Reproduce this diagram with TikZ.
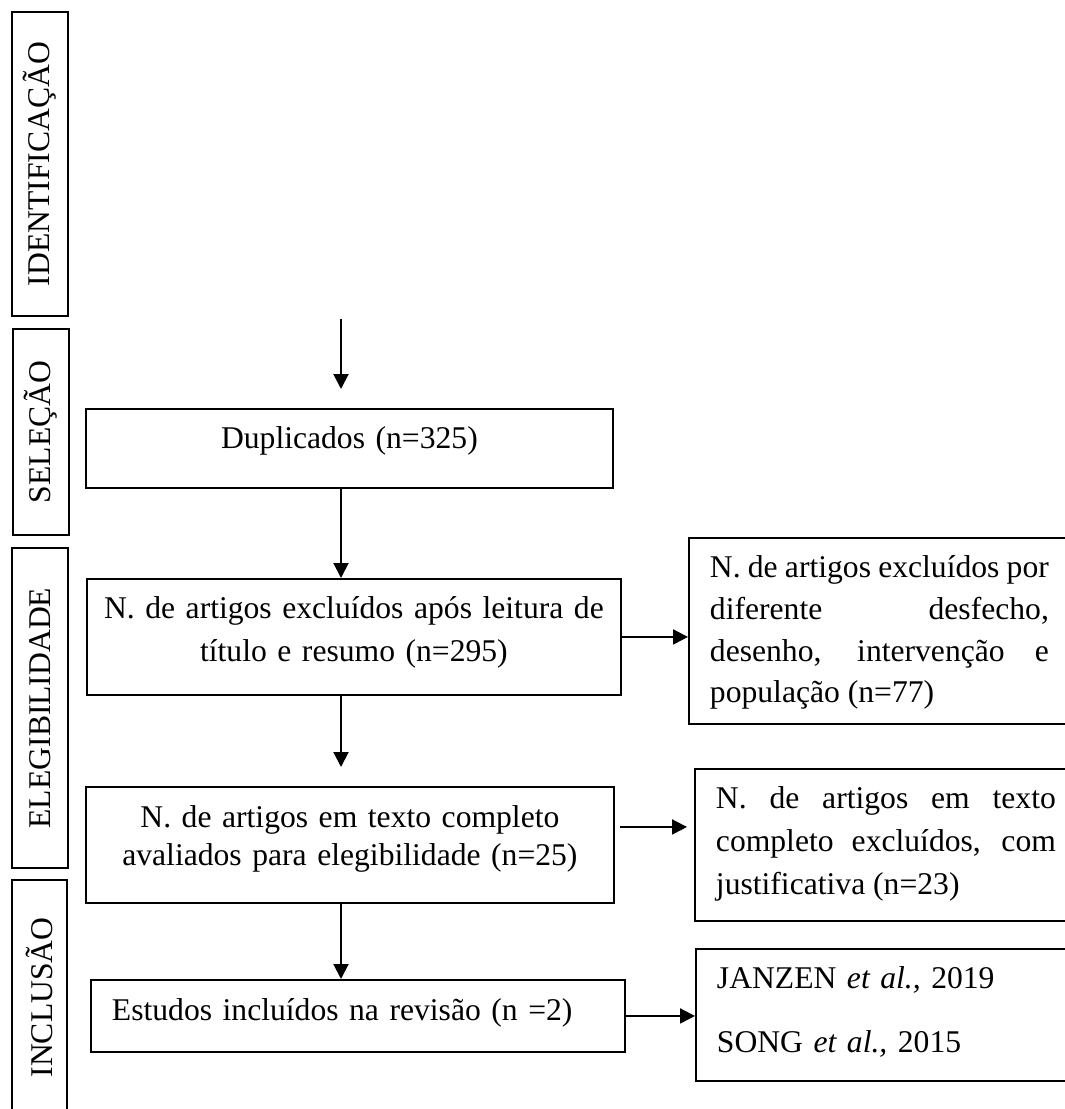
\documentclass[tikz,border=0pt]{standalone}
\usepackage{fontspec}
\setmainfont{Liberation Serif}
\usepackage{tikz}
\usetikzlibrary{arrows.meta}
\tikzset{>={Triangle[length=0.3cm,width=0.3cm]}}
\tikzstyle{box}=[draw, anchor=north west, inner xsep=0pt, inner ysep=0pt, font=\fontsize{18}{24}\selectfont]
\tikzstyle{sidebox}=[box, inner xsep=0.42cm, align=justify]
\tikzstyle{stage}=[draw, rotate=90, inner sep=0pt, minimum height=1.12cm, font=\fontsize{18}{22}\selectfont]

\begin{document}
\begin{tikzpicture}[x=0.02cm, y=-0.02cm, line width=1.1pt]
		\useasboundingbox (0,0) rectangle (1065,1109);
		\clip (0,0) rectangle (1065,1109);
		
		% Stages
		\node[stage, minimum width=6.08cm] (Ident) at (40,164) {IDENTIFICAÇÃO};
		\node[stage, minimum width=4.12cm] (Sel) at (41,432) {SELEÇÃO};
		\node[stage, minimum width=6.4cm] (Eleg) at (40,708) {ELEGIBILIDADE};
		\node[stage, minimum width=4.7cm, minimum height=1.1cm] (Inc) at (39.5,997.5) {INCLUSÃO};
		
		% Main boxes
		\node[box, text width=10.54cm, align=center, text height=0.8cm, text depth=0.78cm] (dup) at (85,408) {Duplicados (n=325)};
		\node[box, text width=10.68cm, align=center, text height=0.8cm, text depth=1.52cm] (tit) at (86,578) {
			N. de artigos excluídos após leitura de\\
			título e resumo (n=295)};
		\node[box, text width=10.56cm, align=center, text height=0.82cm, text depth=1.5cm, font=\fontsize{18}{21.6}\selectfont] (full) at (85,786) {
			N. de artigos em texto completo\\
			avaliados para elegibilidade (n=25)};
		\node[box, inner xsep=0.42cm, text width=9.84cm, align=left, text height=0.82cm, text depth=0.62cm] (incl) at (90,979) {Estudos incluídos na revisão (n =2)};
		
		% Side boxes
		\node[sidebox, text width=6.78cm, text height=0.8cm, text depth=2.92cm, font=\fontsize{18}{23.7}\selectfont] (excA) at (688,537) {
			N. de artigos excluídos por\linebreak
			diferente desfecho,\linebreak
			desenho, intervenção e\linebreak
			população (n=77)};
		\node[sidebox, text width=6.8cm, text height=0.8cm, text depth=2.24cm, font=\fontsize{18}{24.2}\selectfont] (excB) at (694,768) {
			N. de artigos em texto\linebreak
			completo excluídos, com\linebreak
			justificativa (n=23)};
		\node[sidebox, text width=6.8cm, align=left, text height=0.8cm, text depth=1.84cm, font=\fontsize{18}{36.4}\selectfont] (stud) at (695,948) {
			JANZEN \textit{et al.,} 2019\\
			SONG \textit{et al.,} 2015};
		
		% Arrows
		\coordinate (A) at (341,319);
		\draw[->, shorten >=0.38cm] (A) -- (A |- dup.north);
		\draw[->] (dup.south -| A) -- (tit.north -| A);
		\draw[->, shorten >=0.38cm] (tit.south -| A) -- (full.north -| A);
		\draw[->] (full.south -| A) -- (incl.north -| A);
		
		\draw[->] (tit.east) -- (tit.east -| excA.west);
		\draw[->, shorten <=0.1cm, shorten >=0.14cm] ([yshift=0.36cm]full.east) -- ([yshift=0.36cm]full.east -| excB.west);
		\draw[->] (incl.east) -- (incl.east -| stud.west);
	\end{tikzpicture}
\end{document}
